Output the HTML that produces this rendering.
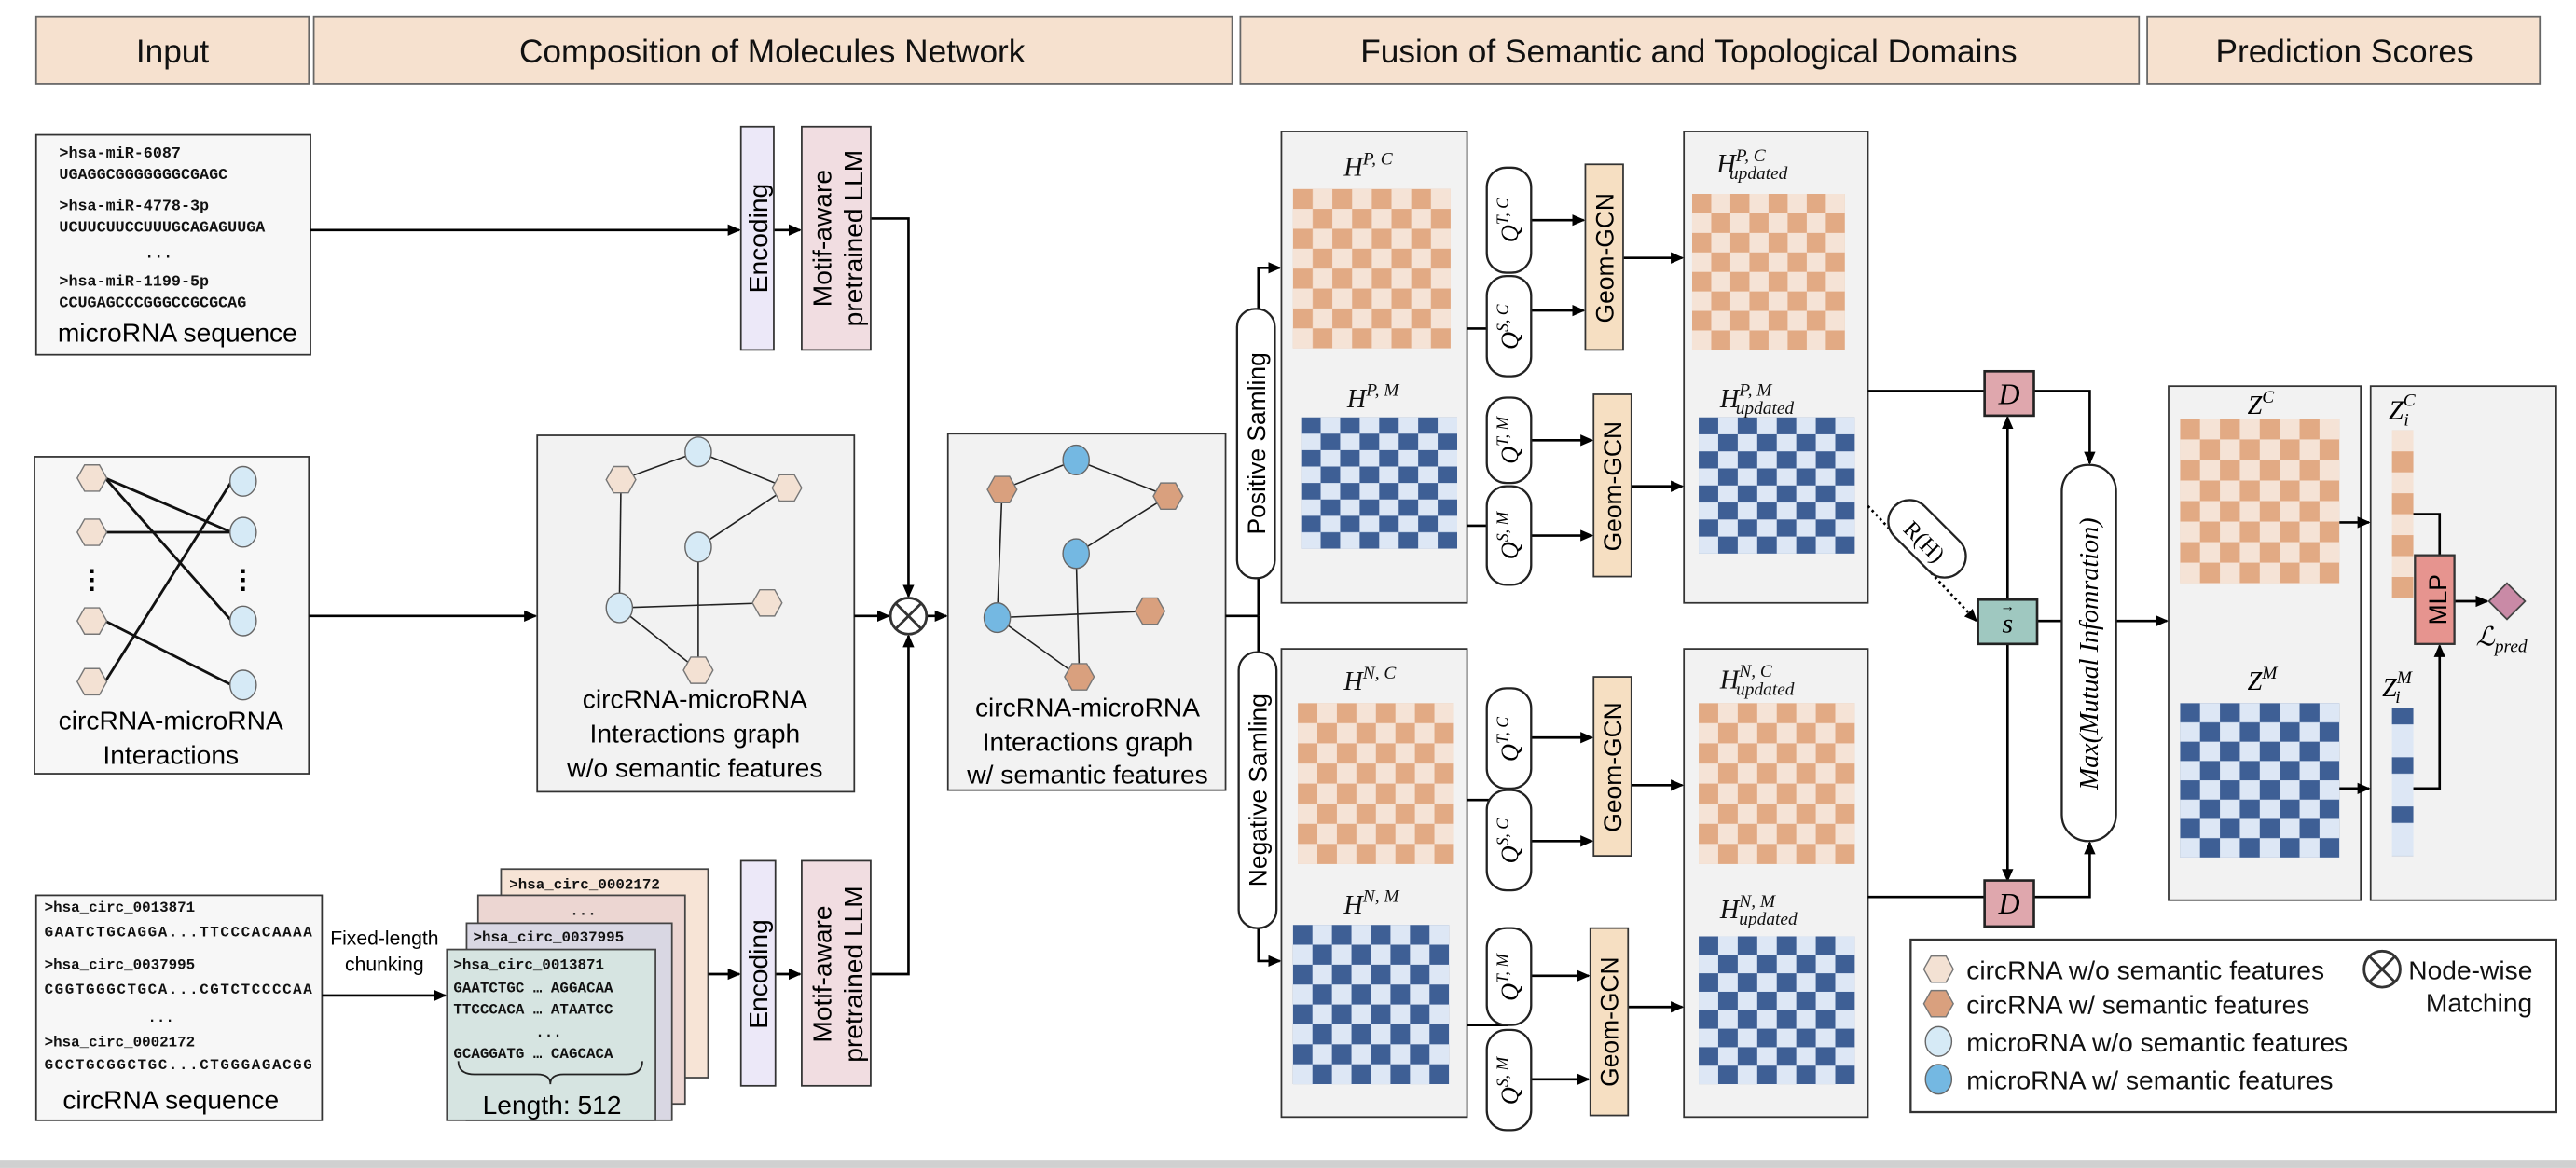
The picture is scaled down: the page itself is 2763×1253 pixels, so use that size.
<!DOCTYPE html>
<html><head><meta charset="utf-8"><style>html,body{margin:0;padding:0;background:#fff}svg{display:block}</style></head><body>
<svg width="2763" height="1253" viewBox="0 0 1568 711" xmlns="http://www.w3.org/2000/svg" font-family="Liberation Sans, sans-serif">
<defs>
<marker id="a" markerWidth="8" markerHeight="8" refX="7" refY="4" orient="auto" markerUnits="userSpaceOnUse"><path d="M0,0.5 L8,4 L0,7.5z" fill="#000"/></marker>
<pattern id="po" width="0.25" height="0.25" patternContentUnits="objectBoundingBox"><rect width="0.25" height="0.25" fill="#f5e3d6"/><rect width="0.125" height="0.125" fill="#e2aa84"/><rect x="0.125" y="0.125" width="0.125" height="0.125" fill="#e2aa84"/></pattern>
<pattern id="pb" width="0.25" height="0.25" patternContentUnits="objectBoundingBox"><rect width="0.25" height="0.25" fill="#dde7f5"/><rect width="0.125" height="0.125" fill="#3e5f95"/><rect x="0.125" y="0.125" width="0.125" height="0.125" fill="#3e5f95"/></pattern>
<pattern id="co" width="1" height="0.25" patternContentUnits="objectBoundingBox"><rect width="1" height="0.25" fill="#f5e3d6"/><rect y="0.125" width="1" height="0.125" fill="#e2aa84"/></pattern>
<pattern id="cb" width="1" height="0.333" patternContentUnits="objectBoundingBox"><rect width="1" height="0.333" fill="#dde7f5"/><rect width="1" height="0.111" fill="#3e5f95"/></pattern>
<g id="hl"><polygon points="-9,0 -4.5,-8 4.5,-8 9,0 4.5,8 -4.5,8" fill="#f3e1d3" stroke="#777" stroke-width="0.8"/></g>
<g id="hd"><polygon points="-9,0 -4.5,-8 4.5,-8 9,0 4.5,8 -4.5,8" fill="#d9a07e" stroke="#777" stroke-width="0.8"/></g>
<g id="cl"><ellipse rx="8" ry="9" fill="#d6eaf6" stroke="#666" stroke-width="0.8"/></g>
<g id="cd"><ellipse rx="8" ry="9" fill="#74b8e2" stroke="#666" stroke-width="0.8"/></g>
<g id="x"><circle r="11" fill="#fff" stroke="#333" stroke-width="1.6"/><path d="M-7.8,-7.8L7.8,7.8M7.8,-7.8L-7.8,7.8" stroke="#333" stroke-width="1.6"/></g>
</defs>
<rect width="1568" height="711" fill="#fff"/>
<rect x="0" y="706" width="1568" height="5" fill="#d0d0d0"/>
<!-- headers -->
<g fill="#f6e1cf" stroke="#666" stroke-width="1">
<rect x="22" y="10" width="166" height="41"/><rect x="191" y="10" width="559" height="41"/><rect x="755" y="10" width="547" height="41"/><rect x="1307" y="10" width="239" height="41"/>
</g>
<g font-size="20" text-anchor="middle" fill="#111">
<text x="105" y="38">Input</text><text x="470" y="38">Composition of Molecules Network</text><text x="1028" y="38">Fusion of Semantic and Topological Domains</text><text x="1427" y="38">Prediction Scores</text>
</g>
<!-- microRNA seq -->
<rect x="22" y="82" width="167" height="134" fill="#f7f7f7" stroke="#333"/>
<g font-family="Liberation Mono, monospace" font-weight="bold" font-size="9.5" fill="#111">
<text x="36" y="96">&gt;hsa-miR-6087</text><text x="36" y="109">UGAGGCGGGGGGGCGAGC</text>
<text x="36" y="128">&gt;hsa-miR-4778-3p</text><text x="36" y="141">UCUUCUUCCUUUGCAGAGUUGA</text>
<text x="88" y="157">...</text>
<text x="36" y="174">&gt;hsa-miR-1199-5p</text><text x="36" y="187">CCUGAGCCCGGGCCGCGCAG</text>
</g>
<text x="108" y="208" font-size="16" text-anchor="middle">microRNA sequence</text>
<g stroke="#000" stroke-width="1.5" fill="none">
<line x1="189" y1="140" x2="450" y2="140" marker-end="url(#a)"/>
<line x1="471" y1="140" x2="487" y2="140" marker-end="url(#a)"/>
<polyline points="530,133 553,133 553,363" marker-end="url(#a)"/>
</g>
<rect x="451" y="77" width="20" height="136" fill="#ece8f8" stroke="#333"/>
<rect x="488" y="77" width="42" height="136" fill="#f1dde1" stroke="#333"/>
<text transform="translate(467,145) rotate(-90)" font-size="16" text-anchor="middle">Encoding</text>
<text transform="translate(506,145) rotate(-90)" font-size="16" text-anchor="middle">Motif-aware</text>
<text transform="translate(525,145) rotate(-90)" font-size="16" text-anchor="middle">pretrained LLM</text>
<!-- interactions -->
<rect x="21" y="278" width="167" height="193" fill="#f7f7f7" stroke="#333"/>
<g stroke="#111" stroke-width="1.6">
<line x1="64" y1="291" x2="141" y2="324"/><line x1="64" y1="291" x2="141" y2="378"/><line x1="64" y1="324" x2="141" y2="324"/><line x1="64" y1="378" x2="141" y2="417"/><line x1="64" y1="415" x2="141" y2="293"/>
</g>
<use href="#hl" x="56" y="291"/><use href="#hl" x="56" y="324"/><use href="#hl" x="56" y="378"/><use href="#hl" x="56" y="415"/>
<use href="#cl" x="148" y="293"/><use href="#cl" x="148" y="324"/><use href="#cl" x="148" y="378"/><use href="#cl" x="148" y="417"/>
<text x="56" y="358" font-size="16" text-anchor="middle" font-weight="bold">⋮</text><text x="148" y="358" font-size="16" text-anchor="middle" font-weight="bold">⋮</text>
<text x="104" y="444" font-size="16" text-anchor="middle">circRNA-microRNA</text><text x="104" y="465" font-size="16" text-anchor="middle">Interactions</text>
<line x1="188" y1="375" x2="326" y2="375" stroke="#000" stroke-width="1.5" marker-end="url(#a)"/>
<!-- graph w/o -->
<rect x="327" y="265" width="193" height="217" fill="#f2f2f2" stroke="#333"/>
<g stroke="#222" stroke-width="0.9">
<line x1="378" y1="292" x2="425" y2="275"/><line x1="425" y1="275" x2="479" y2="297"/><line x1="479" y1="297" x2="425" y2="333"/><line x1="378" y1="292" x2="377" y2="370"/><line x1="425" y1="333" x2="425" y2="408"/><line x1="377" y1="370" x2="467" y2="367"/><line x1="377" y1="370" x2="425" y2="408"/>
</g>
<use href="#cl" x="425" y="275"/><use href="#hl" x="378" y="292"/><use href="#hl" x="479" y="297"/><use href="#cl" x="425" y="333"/><use href="#cl" x="377" y="370"/><use href="#hl" x="467" y="367"/><use href="#hl" x="425" y="408"/>
<g font-size="16" text-anchor="middle"><text x="423" y="431">circRNA-microRNA</text><text x="423" y="452">Interactions graph</text><text x="423" y="473">w/o semantic features</text></g>
<g stroke="#000" stroke-width="1.5" fill="none">
<line x1="520" y1="375" x2="541" y2="375" marker-end="url(#a)"/>
<polyline points="530,593 553,593 553,387" marker-end="url(#a)"/>
<line x1="564" y1="375" x2="576" y2="375" marker-end="url(#a)"/>
</g>
<use href="#x" x="553" y="375"/>
<!-- graph w/ -->
<rect x="577" y="264" width="169" height="217" fill="#f2f2f2" stroke="#333"/>
<g stroke="#222" stroke-width="0.9">
<line x1="610" y1="298" x2="655" y2="280"/><line x1="655" y1="280" x2="711" y2="302"/><line x1="711" y1="302" x2="655" y2="337"/><line x1="610" y1="298" x2="607" y2="376"/><line x1="655" y1="337" x2="657" y2="412"/><line x1="607" y1="376" x2="700" y2="372"/><line x1="607" y1="376" x2="657" y2="412"/>
</g>
<use href="#cd" x="655" y="280"/><use href="#hd" x="610" y="298"/><use href="#hd" x="711" y="302"/><use href="#cd" x="655" y="337"/><use href="#cd" x="607" y="376"/><use href="#hd" x="700" y="372"/><use href="#hd" x="657" y="412"/>
<g font-size="16" text-anchor="middle"><text x="662" y="436">circRNA-microRNA</text><text x="662" y="457">Interactions graph</text><text x="662" y="477">w/ semantic features</text></g>
<!-- circRNA seq -->
<rect x="22" y="545" width="174" height="137" fill="#f7f7f7" stroke="#333"/>
<g font-family="Liberation Mono, monospace" font-weight="bold" font-size="9" fill="#111">
<text x="27" y="555">&gt;hsa_circ_0013871</text><text x="27" y="570" textLength="163">GAATCTGCAGGA...TTCCCACAAAA</text>
<text x="27" y="590">&gt;hsa_circ_0037995</text><text x="27" y="605" textLength="163">CGGTGGGCTGCA...CGTCTCCCCAA</text>
<text x="98" y="622" text-anchor="middle">...</text>
<text x="27" y="637">&gt;hsa_circ_0002172</text><text x="27" y="651" textLength="163">GCCTGCGGCTGC...CTGGGAGACGG</text>
</g>
<text x="104" y="675" font-size="16" text-anchor="middle">circRNA sequence</text>
<text x="234" y="575" font-size="12" text-anchor="middle">Fixed-length</text><text x="234" y="591" font-size="12" text-anchor="middle">chunking</text>
<line x1="196" y1="606" x2="271" y2="606" stroke="#000" stroke-width="1.5" marker-end="url(#a)"/>
<g stroke="#444" stroke-width="1">
<rect x="305" y="529" width="126" height="127" fill="#f7e4d6"/>
<rect x="291" y="545" width="126" height="127" fill="#ecd6d2"/>
<rect x="284" y="562" width="125" height="120" fill="#d9d7e3"/>
<rect x="272" y="578" width="127" height="104" fill="#d6e4e1"/>
</g>
<g font-family="Liberation Mono, monospace" font-weight="bold" font-size="9" fill="#111">
<text x="310" y="541">&gt;hsa_circ_0002172</text><text x="355" y="557" text-anchor="middle">...</text><text x="288" y="573">&gt;hsa_circ_0037995</text>
<text x="276" y="590">&gt;hsa_circ_0013871</text><text x="276" y="604">GAATCTGC … AGGACAA</text><text x="276" y="617">TTCCCACA … ATAATCC</text><text x="334" y="631" text-anchor="middle">...</text><text x="276" y="644">GCAGGATG … CAGCACA</text>
</g>
<path d="M279,646 q0,8 10,8 h38 q8,0 8,6 q0,-6 8,-6 h38 q10,0 10,-8" fill="none" stroke="#222" stroke-width="1"/>
<text x="336" y="678" font-size="16" text-anchor="middle">Length: 512</text>
<g stroke="#000" stroke-width="1.5"><line x1="431" y1="593" x2="450" y2="593" marker-end="url(#a)"/><line x1="472" y1="593" x2="487" y2="593" marker-end="url(#a)"/></g>
<rect x="451" y="524" width="21" height="137" fill="#ece8f8" stroke="#333"/>
<rect x="488" y="524" width="42" height="137" fill="#f1dde1" stroke="#333"/>
<text transform="translate(467,593) rotate(-90)" font-size="16" text-anchor="middle">Encoding</text>
<text transform="translate(506,593) rotate(-90)" font-size="16" text-anchor="middle">Motif-aware</text>
<text transform="translate(525,593) rotate(-90)" font-size="16" text-anchor="middle">pretrained LLM</text>
<!-- fusion sampling -->
<g stroke="#000" stroke-width="1.5" fill="none">
<line x1="746" y1="375" x2="766" y2="375"/>
<polyline points="766,375 766,163 779,163" marker-end="url(#a)"/>
<polyline points="766,375 766,585 779,585" marker-end="url(#a)"/>
</g>
<rect x="753" y="188" width="23" height="164" rx="11" fill="#fff" stroke="#222" stroke-width="1.3"/>
<rect x="754" y="397" width="23" height="168" rx="11" fill="#fff" stroke="#222" stroke-width="1.3"/>
<text transform="translate(770,270) rotate(-90)" font-size="15" text-anchor="middle">Positive Samling</text>
<text transform="translate(771,481) rotate(-90)" font-size="15" text-anchor="middle">Negative Samling</text>
<g fill="#f2f2f2" stroke="#333"><rect x="780" y="80" width="113" height="287"/><rect x="780" y="395" width="113" height="285"/><rect x="1025" y="80" width="112" height="287"/><rect x="1025" y="395" width="112" height="285"/></g>
<rect x="787" y="115" width="96" height="97" fill="url(#po)"/>
<rect x="792" y="254" width="95" height="80" fill="url(#pb)"/>
<rect x="790" y="428" width="95" height="98" fill="url(#po)"/>
<rect x="787" y="563" width="95" height="97" fill="url(#pb)"/>
<rect x="1030" y="118" width="93" height="95" fill="url(#po)"/>
<rect x="1034" y="254" width="95" height="83" fill="url(#pb)"/>
<rect x="1034" y="428" width="95" height="98" fill="url(#po)"/>
<rect x="1034" y="570" width="95" height="90" fill="url(#pb)"/>
<g font-family="Liberation Serif, serif" font-style="italic" font-size="16" fill="#111">
<text x="818" y="107">H<tspan font-size="11" dy="-7">P, C</tspan></text>
<text x="820" y="248">H<tspan font-size="11" dy="-7">P, M</tspan></text>
<text x="818" y="420">H<tspan font-size="11" dy="-7">N, C</tspan></text>
<text x="818" y="556">H<tspan font-size="11" dy="-7">N, M</tspan></text>
<text x="1045" y="105">H<tspan font-size="11" dy="-7">P, C</tspan><tspan font-size="11" dx="-22" dy="11">updated</tspan></text>
<text x="1047" y="248">H<tspan font-size="11" dy="-7">P, M</tspan><tspan font-size="11" dx="-22" dy="11">updated</tspan></text>
<text x="1047" y="419">H<tspan font-size="11" dy="-7">N, C</tspan><tspan font-size="11" dx="-22" dy="11">updated</tspan></text>
<text x="1047" y="559">H<tspan font-size="11" dy="-7">N, M</tspan><tspan font-size="11" dx="-22" dy="11">updated</tspan></text>
</g>
<!-- Q pills -->
<g stroke="#000" stroke-width="1.5" fill="none">
<line x1="893" y1="200" x2="918" y2="200"/><line x1="893" y1="320" x2="918" y2="320"/><line x1="893" y1="487" x2="918" y2="487"/><line x1="893" y1="624" x2="918" y2="624"/>
<line x1="932" y1="134" x2="964" y2="134" marker-end="url(#a)"/><line x1="932" y1="189" x2="964" y2="189" marker-end="url(#a)"/>
<line x1="932" y1="268" x2="969" y2="268" marker-end="url(#a)"/><line x1="932" y1="326" x2="969" y2="326" marker-end="url(#a)"/>
<line x1="932" y1="449" x2="969" y2="449" marker-end="url(#a)"/><line x1="932" y1="512" x2="969" y2="512" marker-end="url(#a)"/>
<line x1="932" y1="594" x2="967" y2="594" marker-end="url(#a)"/><line x1="932" y1="657" x2="967" y2="657" marker-end="url(#a)"/>
<line x1="988" y1="157" x2="1024" y2="157" marker-end="url(#a)"/><line x1="993" y1="296" x2="1024" y2="296" marker-end="url(#a)"/>
<line x1="993" y1="478" x2="1024" y2="478" marker-end="url(#a)"/><line x1="991" y1="613" x2="1024" y2="613" marker-end="url(#a)"/>
</g>
<g fill="#fff" stroke="#222" stroke-width="1.3">
<rect x="905" y="102" width="27" height="64" rx="12"/><rect x="905" y="168" width="27" height="61" rx="12"/>
<rect x="905" y="242" width="27" height="52" rx="12"/><rect x="905" y="296" width="27" height="60" rx="12"/>
<rect x="905" y="419" width="27" height="61" rx="12"/><rect x="905" y="481" width="27" height="61" rx="12"/>
<rect x="905" y="565" width="27" height="59" rx="12"/><rect x="905" y="627" width="27" height="61" rx="12"/>
</g>
<g font-family="Liberation Serif, serif" font-style="italic" font-size="15" text-anchor="middle">
<text transform="translate(924,134) rotate(-90)">Q<tspan font-size="10" dy="-6">T, C</tspan></text>
<text transform="translate(924,199) rotate(-90)">Q<tspan font-size="10" dy="-6">S, C</tspan></text>
<text transform="translate(924,268) rotate(-90)">Q<tspan font-size="10" dy="-6">T, M</tspan></text>
<text transform="translate(924,326) rotate(-90)">Q<tspan font-size="10" dy="-6">S, M</tspan></text>
<text transform="translate(924,450) rotate(-90)">Q<tspan font-size="10" dy="-6">T, C</tspan></text>
<text transform="translate(924,512) rotate(-90)">Q<tspan font-size="10" dy="-6">S, C</tspan></text>
<text transform="translate(924,595) rotate(-90)">Q<tspan font-size="10" dy="-6">T, M</tspan></text>
<text transform="translate(924,658) rotate(-90)">Q<tspan font-size="10" dy="-6">S, M</tspan></text>
</g>
<g fill="#f6dfc2" stroke="#333"><rect x="965" y="100" width="23" height="113"/><rect x="970" y="240" width="23" height="111"/><rect x="970" y="412" width="23" height="109"/><rect x="968" y="565" width="23" height="114"/></g>
<g font-size="15" text-anchor="middle">
<text transform="translate(982,157) rotate(-90)">Geom-GCN</text><text transform="translate(987,296) rotate(-90)">Geom-GCN</text><text transform="translate(987,467) rotate(-90)">Geom-GCN</text><text transform="translate(985,622) rotate(-90)">Geom-GCN</text>
</g>
<!-- D / s / MI -->
<g stroke="#000" stroke-width="1.5" fill="none">
<line x1="1137" y1="238" x2="1208" y2="238"/><polyline points="1238,238 1272,238 1272,282" marker-end="url(#a)"/>
<line x1="1137" y1="546" x2="1208" y2="546"/><polyline points="1238,546 1272,546 1272,513" marker-end="url(#a)"/>
<line x1="1222" y1="365" x2="1222" y2="254" marker-end="url(#a)"/>
<line x1="1222" y1="392" x2="1222" y2="536" marker-end="url(#a)"/>
<line x1="1240" y1="378" x2="1255" y2="378"/>
<line x1="1288" y1="378" x2="1319" y2="378" marker-end="url(#a)"/>
<line x1="1137" y1="308" x2="1203" y2="378" stroke-dasharray="1.5,2" marker-end="url(#a)"/>
</g>
<rect x="1208" y="226" width="30" height="27" fill="#dfa7ad" stroke="#222" stroke-width="1.5"/>
<rect x="1208" y="536" width="30" height="28" fill="#dfa7ad" stroke="#222" stroke-width="1.5"/>
<g font-family="Liberation Serif, serif" font-style="italic" font-size="18" text-anchor="middle"><text x="1223" y="246">D</text><text x="1223" y="556">D</text></g>
<rect x="1204" y="365" width="36" height="27" fill="#9fc8c0" stroke="#222" stroke-width="1.5"/>
<text x="1222" y="385" font-family="Liberation Serif, serif" font-style="italic" font-size="17" text-anchor="middle">s</text>
<text x="1222" y="372" font-size="9" text-anchor="middle">→</text>
<rect x="1160" y="300" width="26" height="56" rx="13" transform="rotate(-45,1173,328)" fill="#fff" stroke="#222" stroke-width="1.3"/>
<text transform="translate(1168,333) rotate(45)" font-family="Liberation Serif, serif" font-size="14" text-anchor="middle">R(H)</text>
<rect x="1255" y="283" width="33" height="229" rx="16" fill="#fff" stroke="#222" stroke-width="1.3"/>
<text transform="translate(1277,398) rotate(-90)" font-family="Liberation Serif, serif" font-style="italic" font-size="16" text-anchor="middle">Max(Mutual Infomration)</text>
<!-- prediction -->
<g fill="#f2f2f2" stroke="#333"><rect x="1320" y="235" width="117" height="313"/><rect x="1443" y="235" width="113" height="313"/></g>
<rect x="1327" y="255" width="97" height="100" fill="url(#po)"/>
<rect x="1327" y="428" width="97" height="94" fill="url(#pb)"/>
<rect x="1456" y="262" width="13" height="102" fill="url(#co)"/>
<rect x="1456" y="431" width="13" height="90" fill="url(#cb)"/>
<g font-family="Liberation Serif, serif" font-style="italic" font-size="16">
<text x="1368" y="252">Z<tspan font-size="11" dy="-7">C</tspan></text>
<text x="1368" y="420">Z<tspan font-size="11" dy="-7">M</tspan></text>
<text x="1454" y="255">Z<tspan font-size="11" dy="-8">C</tspan><tspan font-size="11" dx="-7" dy="12">i</tspan></text>
<text x="1450" y="424">Z<tspan font-size="11" dy="-8">M</tspan><tspan font-size="11" dx="-10" dy="12">i</tspan></text>
</g>
<g stroke="#000" stroke-width="1.5" fill="none">
<line x1="1424" y1="318" x2="1442" y2="318" marker-end="url(#a)"/><line x1="1424" y1="480" x2="1442" y2="480" marker-end="url(#a)"/>
<polyline points="1469,313 1485,313 1485,338"/><polyline points="1469,480 1485,480 1485,393" marker-end="url(#a)"/>
<line x1="1494" y1="366" x2="1514" y2="366" marker-end="url(#a)"/>
</g>
<rect x="1470" y="338" width="24" height="54" fill="#e6948f" stroke="#333" stroke-width="1.3"/>
<text transform="translate(1489,365) rotate(-90)" font-size="15" text-anchor="middle">MLP</text>
<polygon points="1515,366 1526,355 1537,366 1526,377" fill="#c98aa6" stroke="#444"/>
<text x="1507" y="393" font-family="Liberation Serif, serif" font-style="italic" font-size="16">ℒ<tspan font-size="11" dy="4">pred</tspan></text>
<!-- legend -->
<rect x="1163" y="572" width="393" height="105" fill="#fff" stroke="#333" stroke-width="1.3"/>
<use href="#hl" x="1180" y="590"/><use href="#hd" x="1180" y="611"/><use href="#cl" x="1180" y="634"/><use href="#cd" x="1180" y="657"/>
<g font-size="16" fill="#111"><text x="1197" y="596">circRNA w/o semantic features</text><text x="1197" y="617">circRNA w/ semantic features</text><text x="1197" y="640">microRNA w/o semantic features</text><text x="1197" y="663">microRNA w/ semantic features</text>
<text x="1466" y="596">Node-wise</text><text x="1509" y="616" text-anchor="middle">Matching</text></g>
<use href="#x" x="1450" y="590"/>
</svg>
</body></html>
